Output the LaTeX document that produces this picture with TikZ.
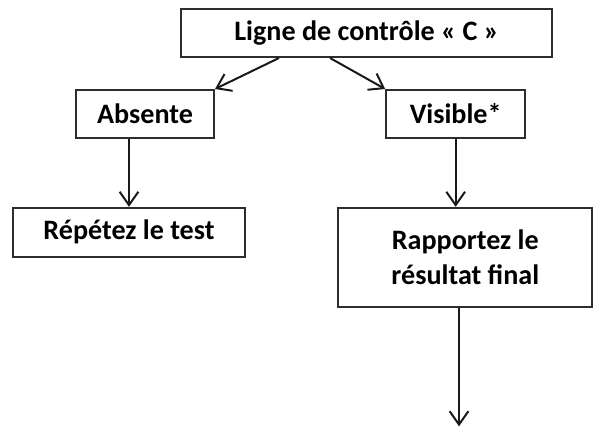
\documentclass[tikz,border=0pt]{standalone}
\usepackage{fontspec}
\setmainfont{Carlito}
\usetikzlibrary{arrows.meta,positioning,calc}
\definecolor{lineGray}{RGB}{45,45,45}
\tikzset{
  box/.style={draw=lineGray, line width=1.7pt, fill=white, align=center,
              inner sep=2pt, font=\fontsize{24}{30}\selectfont\bfseries},
  arrow/.style={-{Straight Barb[length=4mm, width=5.6mm, line width=1.7pt]}, line width=1.7pt, draw=black!90}
}
\begin{document}
\begin{tikzpicture}
\useasboundingbox (0,0) rectangle (17.85,12.84);
\node[box, minimum width=11.13cm, minimum height=1.44cm] (ligne) at (11.0,11.85) {Ligne de contrôle « C »};
\node[box, minimum width=4.14cm, minimum height=1.44cm] (absente) at (4.35,9.42) {Absente};
\node[box, minimum width=4.17cm, minimum height=1.44cm] (visible) at (13.67,9.42) {Visible*};
\node[box, minimum width=6.96cm, minimum height=1.47cm] (repetez) at (3.87,5.87) {Répétez le test};
\node[box, minimum width=7.62cm, minimum height=2.97cm] (rapport) at (13.96,5.12) {Rapportez le\\résultat final};
\coordinate (fin) at (13.77,0.05);
\draw[arrow] ([xshift=-2.63cm]ligne.south) -- (absente.north east);
\draw[arrow] ([xshift=-1.1cm]ligne.south) -- (visible.north west);
\draw[arrow] (absente.south -| repetez.north) -- (repetez.north);
\draw[arrow] (visible.south) -- (visible.south |- rapport.north);
\draw[arrow] (rapport.south -| fin) -- (fin);
\end{tikzpicture}
\end{document}
